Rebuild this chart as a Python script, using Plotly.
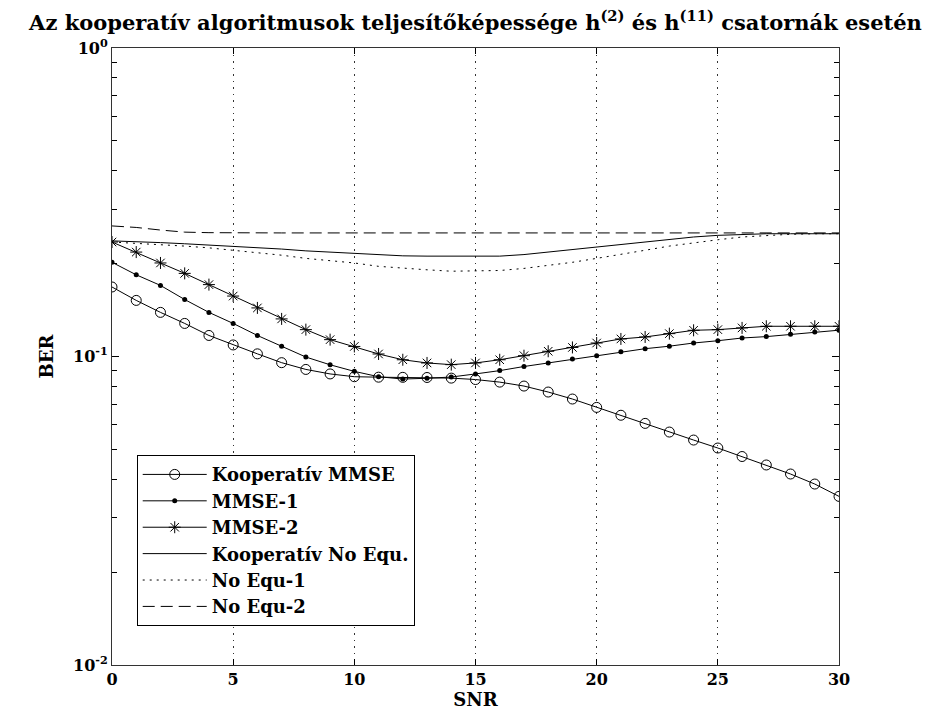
import plotly.graph_objects as go

snr = list(range(31))

koop_mmse = [0.168, 0.152, 0.139, 0.128, 0.117, 0.109, 0.102, 0.0955, 0.0908, 0.0878,
             0.0860, 0.0857, 0.0856, 0.0855, 0.0851, 0.0842, 0.0826, 0.0802, 0.0767, 0.0728,
             0.0684, 0.0645, 0.0607, 0.0569, 0.0536, 0.0505, 0.0474, 0.0445, 0.0416, 0.0386,
             0.0352]
mmse_1 = [0.202, 0.184, 0.170, 0.153, 0.139, 0.128, 0.117, 0.108, 0.0996, 0.0940,
          0.0895, 0.0860, 0.0845, 0.0850, 0.0858, 0.0878, 0.0900, 0.0928, 0.0953, 0.0982,
          0.1006, 0.1036, 0.106, 0.108, 0.1106, 0.1125, 0.1148, 0.116, 0.118, 0.120,
          0.1217]
mmse_2 = [0.235, 0.218, 0.201, 0.186, 0.171, 0.157, 0.1437, 0.1324, 0.1222, 0.1134,
          0.1078, 0.1019, 0.0976, 0.0953, 0.0941, 0.0953, 0.0976, 0.1006, 0.104, 0.107,
          0.1106, 0.114, 0.1157, 0.1186, 0.1216, 0.1222, 0.1238, 0.1253, 0.1253, 0.1253,
          0.1253]
koop_noeq = [0.237, 0.236, 0.234, 0.232, 0.230, 0.228, 0.226, 0.223, 0.220, 0.218,
             0.216, 0.214, 0.212, 0.2115, 0.2115, 0.2115, 0.2115, 0.214, 0.218, 0.222,
             0.227, 0.231, 0.236, 0.240, 0.244, 0.247, 0.249, 0.250, 0.250, 0.250,
             0.250]
noeq_1 = [0.235, 0.233, 0.231, 0.228, 0.225, 0.221, 0.217, 0.213, 0.208, 0.204,
          0.201, 0.196, 0.193, 0.191, 0.189, 0.189, 0.190, 0.193, 0.197, 0.202,
          0.208, 0.214, 0.221, 0.228, 0.234, 0.239, 0.244, 0.247, 0.249, 0.250,
          0.250]
noeq_2 = [0.265, 0.262, 0.257, 0.253, 0.252, 0.2515, 0.2515, 0.2515, 0.2515, 0.2515,
          0.2515, 0.2515, 0.2515, 0.2515, 0.2515, 0.2515, 0.2515, 0.2515, 0.2515, 0.2515,
          0.2515, 0.2515, 0.2515, 0.2515, 0.2515, 0.2515, 0.2515, 0.2515, 0.2515, 0.2515,
          0.2515]

x_ticks = [0, 5, 10, 15, 20, 25, 30]
y_ticks = [0.01, 0.1, 1]
y_tick_text = ["10<sup>-2</sup>", "10<sup>-1</sup>", "10<sup>0</sup>"]
y_minor = [m * d for d in (0.01, 0.1) for m in range(2, 10)]

FONT = "DejaVu Serif"
INK = "black"

series = [
    ("Kooperatív MMSE", koop_mmse, "solid", dict(symbol="circle-open", size=10, color=INK, line=dict(width=1, color=INK)), "lines+markers"),
    ("MMSE-1", mmse_1, "solid", dict(symbol="circle", size=5, color=INK), "lines+markers"),
    ("MMSE-2", mmse_2, "solid", dict(symbol="asterisk-open", size=10, color=INK, line=dict(width=1, color=INK)), "lines+markers"),
    ("Kooperatív No Equ.", koop_noeq, "solid", None, "lines"),
    ("No Equ-1", noeq_1, "2px,5px", None, "lines"),
    ("No Equ-2", noeq_2, "12px,6px", None, "lines"),
]

fig = go.Figure()
for i, (name, vals, dash, marker, mode) in enumerate(series):
    kw = dict(x=snr, y=vals, name=f"<b>{name}</b>", mode=mode, legendgroup=f"g{i}",
              line=dict(color=INK, width=1, dash=dash))
    if marker:
        kw["marker"] = marker
    fig.add_trace(go.Scatter(**kw))

fig.update_layout(
    width=933, height=725,
    margin=dict(l=112, r=94, t=48, b=60),
    paper_bgcolor="white", plot_bgcolor="white",
    font=dict(family=FONT, color=INK, size=16),
    title=dict(
        text="<b>Az kooperatív algoritmusok teljesítőképessége h<sup>(2)</sup> és h<sup>(11)</sup> csatornák esetén</b>",
        x=0.5, xref="paper", xanchor="center",
        y=1, yref="paper", yanchor="bottom", pad=dict(b=18),
        font=dict(family=FONT, size=21, color=INK),
    ),
    showlegend=True,
    legend=dict(
        x=0.034, y=0.34, xanchor="left", yanchor="top",
        bgcolor="white", bordercolor=INK, borderwidth=1,
        font=dict(family=FONT, size=18, color=INK),
        itemwidth=64, tracegroupgap=0,
    ),
)

fig.update_xaxes(
    range=[0, 30], tickvals=x_ticks,
    ticktext=[f"<b>{v}</b>" for v in x_ticks],
    ticks="inside", ticklen=6, tickcolor=INK,
    showline=True, linecolor="#333", linewidth=1, mirror="ticks",
    showgrid=True, gridcolor="#333", gridwidth=1, griddash="1.5px,5px",
    zeroline=False,
    title=dict(text="<b>SNR</b>", standoff=4, font=dict(family=FONT, size=18)),
    tickfont=dict(family=FONT, size=16),
)
fig.update_yaxes(
    type="log", range=[-2, 0], tickvals=y_ticks,
    ticktext=[f"<b>{t}</b>" for t in y_tick_text],
    ticks="inside", ticklen=7, tickcolor=INK,
    minor=dict(tickvals=y_minor, ticks="inside", ticklen=5, tickcolor=INK, showgrid=False),
    showline=True, linecolor="#333", linewidth=1, mirror="ticks",
    showgrid=False, zeroline=False,
    title=dict(text="<b>BER</b>", standoff=14, font=dict(family=FONT, size=18)),
    tickfont=dict(family=FONT, size=16),
)

fig.write_html("out.html")
